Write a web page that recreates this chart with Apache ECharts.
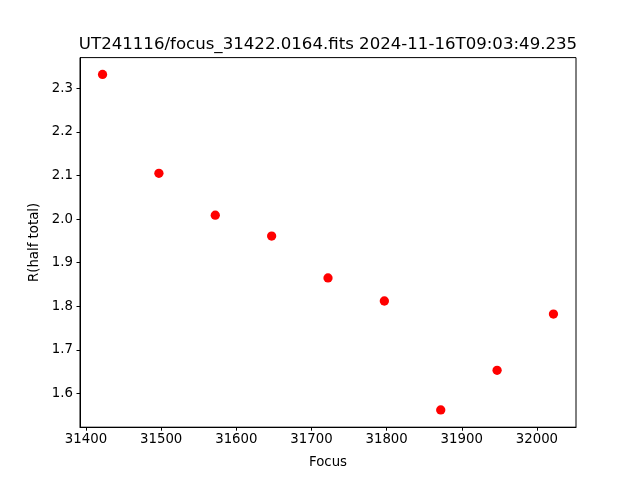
<!DOCTYPE html>
<html><head><meta charset="utf-8">
<script src="https://cdn.jsdelivr.net/npm/echarts@6/dist/echarts.min.js"></script>
<style>html,body{margin:0;padding:0;background:#fff}#c{width:640px;height:480px}</style>
</head><body><div id="c"></div>
<script>
const focus = [31422, 31497, 31572, 31647, 31722, 31797, 31872, 31947, 32022];
const rHalf = [2.332, 2.105, 2.009, 1.961, 1.865, 1.812, 1.562, 1.653, 1.782];
const xTicks = [31400, 31500, 31600, 31700, 31800, 31900, 32000];
const yTicks = [1.6, 1.7, 1.8, 1.9, 2.0, 2.1, 2.2, 2.3];
const titleText = 'UT241116/focus_31422.0164.fits 2024-11-16T09:03:49.235';

const font = 'DejaVu Sans';
const chart = echarts.init(document.getElementById('c'), null, {renderer: 'canvas'});
chart.setOption({
  animation: false,
  backgroundColor: '#fff',
  graphic: [{
    type: 'text', x: 328, y: 45,
    style: {text: titleText, fontFamily: font, fontSize: 16.6, fill: '#000', align: 'center', verticalAlign: 'middle'}
  }],
  grid: {left: 80, right: 64, top: 57.6, bottom: 52.8, show: true, borderColor: '#000', borderWidth: 1, backgroundColor: 'transparent'},
  xAxis: {
    type: 'value', min: 31392, max: 32052,
    name: 'Focus', nameLocation: 'middle', nameGap: 29,
    nameTextStyle: {fontFamily: font, fontSize: 13.3, color: '#000'},
    axisLine: {show: true, onZero: false, lineStyle: {color: '#000', width: 1}},
    axisTick: {show: true, inside: false, length: 3.5, lineStyle: {color: '#000'}, customValues: xTicks},
    axisLabel: {fontFamily: font, fontSize: 13.3, color: '#000', margin: 6, customValues: xTicks, formatter: v => String(v)},
    splitLine: {show: false}
  },
  yAxis: {
    type: 'value', min: 1.5224, max: 2.3706,
    name: 'R(half total)', nameLocation: 'middle', nameGap: 38,
    nameTextStyle: {fontFamily: font, fontSize: 13.3, color: '#000'},
    axisLine: {show: true, onZero: false, lineStyle: {color: '#000', width: 1}},
    axisTick: {show: true, inside: false, length: 3.5, lineStyle: {color: '#000'}, customValues: yTicks},
    axisLabel: {fontFamily: font, fontSize: 13.3, color: '#000', margin: 7, customValues: yTicks, formatter: v => v.toFixed(1)},
    splitLine: {show: false}
  },
  series: [{
    type: 'scatter', symbol: 'circle', symbolSize: 9.3,
    itemStyle: {color: '#ff0000', opacity: 1},
    data: focus.map((f, i) => [f, rHalf[i]])
  }]
});
</script></body></html>
